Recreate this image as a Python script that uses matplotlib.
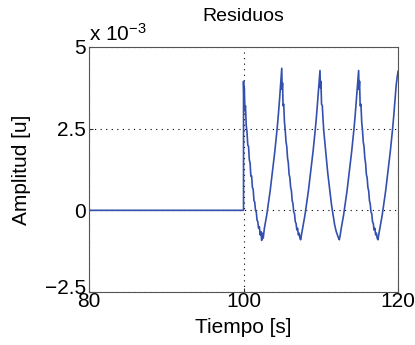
import matplotlib

matplotlib.use("Agg")
import matplotlib.pyplot as plt
import matplotlib.transforms as mtransforms
import numpy as np

# residual signal, amplitude in units of 1e-3
t_rest = [80.0, 100.0]
y_rest = [0.0, 0.0]

t_c1 = [100.00, 100.05, 100.10, 100.18, 100.25, 100.35, 100.45, 100.55, 100.65, 100.75,
        100.85, 100.95, 101.05, 101.15, 101.25, 101.35, 101.45, 101.55, 101.65, 101.75,
        101.85, 101.95, 102.05, 102.15, 102.25, 102.35, 102.45, 102.55, 102.70, 102.85,
        103.00, 103.15, 103.30, 103.45, 103.60, 103.75, 103.90, 104.05, 104.20, 104.35,
        104.50, 104.65, 104.80, 104.95]
y_c1 = [3.95, 3.40, 3.75, 3.05, 3.20, 2.60, 2.40, 2.00, 1.95, 1.55,
        1.45, 1.05, 1.05, 0.70, 0.65, 0.30, 0.25, 0.00, -0.05, -0.30,
        -0.35, -0.55, -0.50, -0.75, -0.65, -0.92, -0.70, -0.85, -0.55, -0.35,
        -0.15, 0.10, 0.35, 0.60, 0.90, 1.20, 1.50, 1.80, 2.15, 2.50,
        2.90, 3.35, 3.85, 4.35]

t_c2 = [105.00, 105.05, 105.12, 105.20, 105.30, 105.40, 105.50, 105.60, 105.70, 105.80,
        105.90, 106.00, 106.10, 106.20, 106.30, 106.40, 106.50, 106.60, 106.70, 106.80,
        106.90, 107.00, 107.10, 107.20, 107.30, 107.40, 107.50, 107.65, 107.80, 107.95,
        108.10, 108.25, 108.40, 108.55, 108.70, 108.85, 109.00, 109.15, 109.30, 109.45,
        109.60, 109.75, 109.90]
y_c2 = [3.70, 3.90, 3.20, 3.25, 2.70, 2.45, 2.10, 1.95, 1.60, 1.45,
        1.10, 1.00, 0.70, 0.60, 0.30, 0.20, -0.05, -0.10, -0.35, -0.40,
        -0.60, -0.55, -0.75, -0.70, -0.85, -0.90, -0.75, -0.55, -0.35, -0.15,
        0.10, 0.35, 0.60, 0.90, 1.20, 1.50, 1.80, 2.15, 2.50, 2.90,
        3.35, 3.80, 4.28]

t_c3 = [109.95, 110.02, 110.10, 110.20, 110.30, 110.40, 110.50, 110.60, 110.70, 110.80,
        110.90, 111.00, 111.10, 111.20, 111.30, 111.40, 111.50, 111.60, 111.70, 111.80,
        111.90, 112.00, 112.10, 112.20, 112.30, 112.40, 112.50, 112.65, 112.80, 112.95,
        113.10, 113.25, 113.40, 113.55, 113.70, 113.85, 114.00, 114.15, 114.30, 114.45,
        114.60, 114.75, 114.90]
y_c3 = [3.75, 3.95, 3.25, 3.20, 2.75, 2.40, 2.15, 1.90, 1.65, 1.40,
        1.15, 0.95, 0.75, 0.55, 0.35, 0.15, 0.00, -0.15, -0.30, -0.45,
        -0.55, -0.65, -0.72, -0.80, -0.85, -0.90, -0.78, -0.55, -0.35, -0.15,
        0.10, 0.35, 0.60, 0.90, 1.20, 1.50, 1.80, 2.15, 2.50, 2.90,
        3.35, 3.80, 4.28]

t_c4 = [114.95, 115.02, 115.10, 115.20, 115.30, 115.40, 115.50, 115.60, 115.70, 115.80,
        115.90, 116.00, 116.10, 116.20, 116.30, 116.40, 116.50, 116.60, 116.70, 116.80,
        116.90, 117.00, 117.10, 117.20, 117.30, 117.40, 117.50, 117.65, 117.80, 117.95,
        118.10, 118.25, 118.40, 118.55, 118.70, 118.85, 119.00, 119.15, 119.30, 119.45,
        119.60, 119.75, 119.90, 120.00]
y_c4 = [3.70, 3.95, 3.20, 3.25, 2.70, 2.45, 2.10, 1.95, 1.60, 1.45,
        1.10, 1.00, 0.70, 0.60, 0.30, 0.20, -0.05, -0.10, -0.35, -0.40,
        -0.60, -0.55, -0.75, -0.70, -0.85, -0.90, -0.75, -0.55, -0.35, -0.15,
        0.10, 0.35, 0.60, 0.90, 1.20, 1.50, 1.80, 2.15, 2.50, 2.90,
        3.35, 3.80, 4.10, 4.25]

x_ticks = [80, 100, 120]
y_ticks = [-2.5, 0, 2.5, 5]
y_labels = ["\u22122.5", "0", "2.5", "5"]

plt.rcParams["font.family"] = ["Liberation Sans", "DejaVu Sans"]
plt.rcParams["mathtext.default"] = "regular"

t = np.concatenate([t_rest, t_c1, t_c2, t_c3, t_c4])
y = np.concatenate([y_rest, y_c1, y_c2, y_c3, y_c4]) * 1e-3

fig = plt.figure(figsize=(4.15, 3.45), dpi=100)
ax = fig.add_axes([0.2145, 0.1536, 0.7446, 0.7102])
ax.plot(t, y, color="#3450ae", lw=1.2)

ax.set_xlim(80, 120)
ax.set_ylim(-2.5e-3, 5e-3)
ax.set_xticks(x_ticks)
ax.set_yticks([v * 1e-3 for v in y_ticks])
ax.set_yticklabels(y_labels)
ax.tick_params(direction="in", length=3, labelsize=15, color="#333333")
ax.tick_params(axis="x", pad=0)
ax.tick_params(axis="y", pad=2)
ax.grid(True, ls=(0, (1, 4)), color="black", lw=0.8)
for s in ax.spines.values():
    s.set_color("#555555")
    s.set_linewidth(0.8)

# MATLAB lifts the bottom y label a little off the x labels
lowest = ax.get_yticklabels()[0]
lowest.set_transform(lowest.get_transform() +
                     mtransforms.ScaledTranslation(0, 4 / 72, fig.dpi_scale_trans))

ax.set_title("Residuos", fontsize=14, pad=19)
ax.set_xlabel("Tiempo [s]", fontsize=15, labelpad=5)
ax.set_ylabel("Amplitud [u]", fontsize=15, labelpad=10)
ax.text(0.0, 1.01, "x 10$^{-3}$", transform=ax.transAxes, fontsize=15,
        ha="left", va="bottom")

fig.savefig("out.png", dpi=100)
